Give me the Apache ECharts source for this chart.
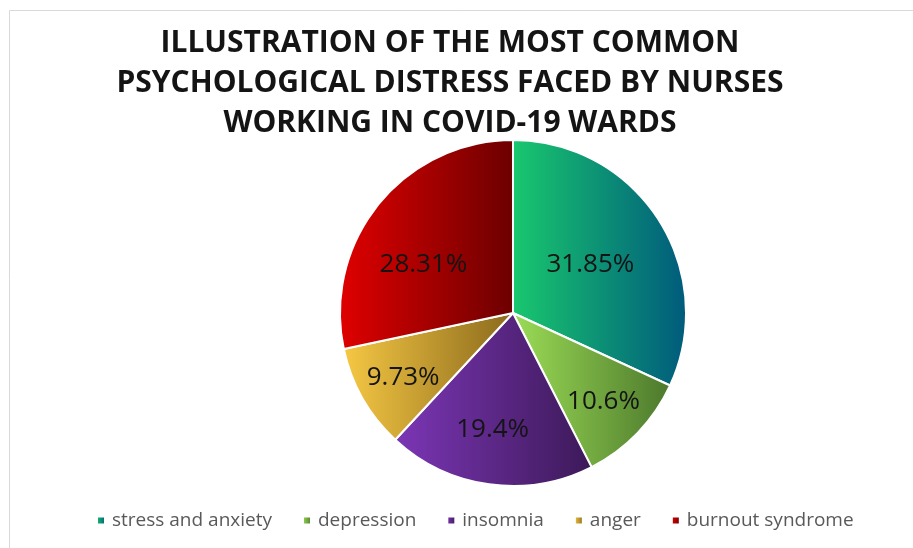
<!DOCTYPE html>
<html>
<head>
<meta charset="utf-8">
<script src="https://cdn.jsdelivr.net/npm/echarts@6/dist/echarts.min.js"></script>
<style>
html,body{margin:0;padding:0;background:#fff;}
#c{width:913px;height:548px;}
</style>
</head>
<body>
<div id="c"></div>
<script>
const titleLines = ['ILLUSTRATION OF THE MOST COMMON', 'PSYCHOLOGICAL DISTRESS FACED BY NURSES', 'WORKING IN COVID-19 WARDS'];
const categories = ['stress and anxiety', 'depression', 'insomnia', 'anger', 'burnout syndrome'];
const values = [31.85, 10.6, 19.4, 9.73, 28.31];
const gradLeft = ['#19c86e', '#9cdd56', '#7c36b6', '#f6c844', '#e00000'];
const gradRight = ['#005a7c', '#4c782c', '#3c1958', '#8a691c', '#6c0000'];
const labelOffsets = [[2, 0], [26, 27], [-8, 28], [-32, 20], [-20, 8]];

const chart = echarts.init(document.getElementById('c'), null, {renderer: 'canvas'});
const data = categories.map((name, i) => ({
  name: name,
  value: values[i],
  itemStyle: {
    color: new echarts.graphic.LinearGradient(0, 0, 1, 0, [
      {offset: 0, color: gradLeft[i]},
      {offset: 1, color: gradRight[i]}
    ])
  },
  label: {offset: labelOffsets[i]}
}));

chart.setOption({
  backgroundColor: '#ffffff',
  animation: false,
  graphic: [{
    type: 'rect',
    z: -10,
    shape: {x: 9.5, y: 10.5, width: 930, height: 560},
    style: {fill: '#ffffff', stroke: '#d9d9d9', lineWidth: 1}
  }],
  title: {
    text: titleLines.join('\n'),
    left: 445,
    textAlign: 'center',
    top: 18,
    textStyle: {
      fontFamily: 'Open Sans',
      fontWeight: 'bold',
      fontSize: 30,
      lineHeight: 40,
      color: '#141414'
    }
  },
  legend: {
    left: 91,
    top: 506,
    orient: 'horizontal',
    icon: 'rect',
    itemWidth: 8,
    itemHeight: 8,
    itemGap: 30,
    textStyle: {
      fontFamily: 'Open Sans',
      fontSize: 19,
      color: '#595959',
      padding: [0, 0, 0, 2]
    },
    data: categories
  },
  series: [{
    type: 'pie',
    center: [513, 313],
    radius: [0, 173],
    startAngle: 90,
    clockwise: true,
    avoidLabelOverlap: false,
    itemStyle: {borderColor: '#ffffff', borderWidth: 2},
    label: {
      show: true,
      position: 'inside',
      formatter: '{c}%',
      fontFamily: 'Open Sans',
      fontSize: 26,
      color: '#141414'
    },
    labelLine: {show: false},
    emphasis: {disabled: true},
    data: data
  }]
});
</script>
</body>
</html>
